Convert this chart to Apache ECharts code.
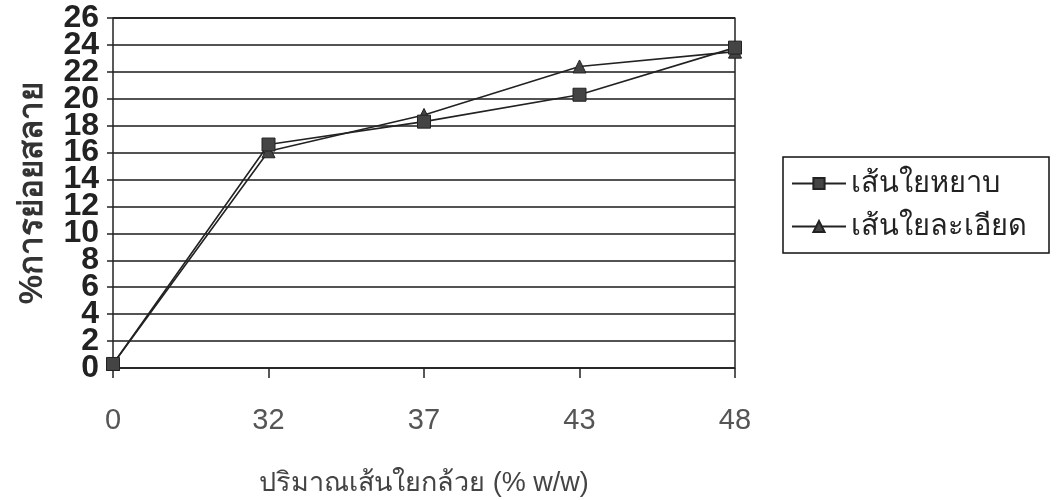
<!DOCTYPE html>
<html>
<head>
<meta charset="utf-8">
<script src="https://cdn.jsdelivr.net/npm/echarts@6/dist/echarts.min.js"></script>
<style>
  html, body { margin: 0; padding: 0; background: #fff; }
  #chart { width: 1062px; height: 500px; }
</style>
</head>
<body>
<div id="chart"></div>
<script>
// Banana fibre content (% w/w) on the category axis
const categories = ['0', '32', '37', '43', '48'];
// Degradation (%) for coarse fibre
const coarseFibre = [0.3, 16.6, 18.3, 20.3, 23.8];
// Degradation (%) for fine fibre
const fineFibre = [0.3, 16.1, 18.8, 22.4, 23.5];

const seriesNames = ['เส้นใยหยาบ', 'เส้นใยละเอียด'];
const xTitle = 'ปริมาณเส้นใยกล้วย (% w/w)';
const yTitle = '%การย่อยสลาย';

const yMin = 0;
const yMax = 26;
const yStep = 2;

const font = '"Liberation Sans", Arial, "Noto Sans", sans-serif';
const yLabelStyle = { margin: 14, fontFamily: font, fontSize: 32, fontWeight: 'bold', color: '#222' };
const axisInk = { color: '#222', width: 1.5 };

const chart = echarts.init(document.getElementById('chart'));

chart.setOption({
  animation: false,
  backgroundColor: '#fff',
  grid: { left: 113, right: 327, top: 18, bottom: 132, outerBoundsMode: 'none', containLabel: false },
  legend: {
    orient: 'vertical',
    left: 783,
    top: 157,
    padding: [12, 22, 12, 8],
    itemGap: 14,
    itemWidth: 54,
    itemHeight: 14,
    borderColor: '#111',
    borderWidth: 1.5,
    textStyle: { fontFamily: font, fontSize: 29, color: '#222' },
    data: seriesNames
  },
  xAxis: {
    type: 'category',
    data: categories,
    boundaryGap: false,
    name: xTitle,
    nameLocation: 'middle',
    nameGap: 102,
    nameTextStyle: { fontFamily: font, fontSize: 27, color: '#444' },
    axisLine: { show: false },
    axisTick: { show: true, length: 10, lineStyle: axisInk },
    axisLabel: { margin: 38, fontFamily: font, fontSize: 29, color: '#555' },
    splitLine: { show: false }
  },
  yAxis: [
    {
      // inner ticks 2..24 with gridlines
      type: 'value',
      min: yMin,
      max: yMax,
      interval: yStep,
      name: yTitle,
      nameLocation: 'middle',
      nameGap: 64,
      nameRotate: 90,
      nameTextStyle: { fontFamily: font, fontSize: 33, fontWeight: 'bold', color: '#333' },
      axisLine: { show: true, lineStyle: axisInk },
      axisTick: { show: true, length: 6, lineStyle: axisInk },
      axisLabel: Object.assign({ showMinLabel: false, showMaxLabel: false }, yLabelStyle),
      splitLine: { show: true, lineStyle: { color: '#1a1a1a', width: 1.5 } }
    },
    {
      // end labels 0 and 26 on the same scale
      type: 'value',
      position: 'left',
      min: yMin,
      max: yMax,
      interval: yMax - yMin,
      axisLine: { show: false },
      axisTick: { show: true, length: 6, lineStyle: axisInk },
      axisLabel: yLabelStyle,
      splitLine: { show: true, lineStyle: { color: '#1a1a1a', width: 1.5 } }
    },
    {
      // right border of the plot
      type: 'value',
      position: 'right',
      min: yMin,
      max: yMax,
      interval: yStep,
      axisLine: { show: true, lineStyle: axisInk },
      axisTick: { show: false },
      axisLabel: { show: false },
      splitLine: { show: false }
    }
  ],
  series: [
    {
      name: seriesNames[0],
      type: 'line',
      data: coarseFibre,
      symbol: 'rect',
      symbolSize: 13,
      lineStyle: { color: '#222', width: 1.6 },
      itemStyle: { color: '#444', borderColor: '#222', borderWidth: 1 },
      z: 3
    },
    {
      name: seriesNames[1],
      type: 'line',
      data: fineFibre,
      symbol: 'triangle',
      symbolSize: 13,
      lineStyle: { color: '#222', width: 1.6 },
      itemStyle: { color: '#444', borderColor: '#222', borderWidth: 1 },
      z: 2
    }
  ]
});
</script>
</body>
</html>
